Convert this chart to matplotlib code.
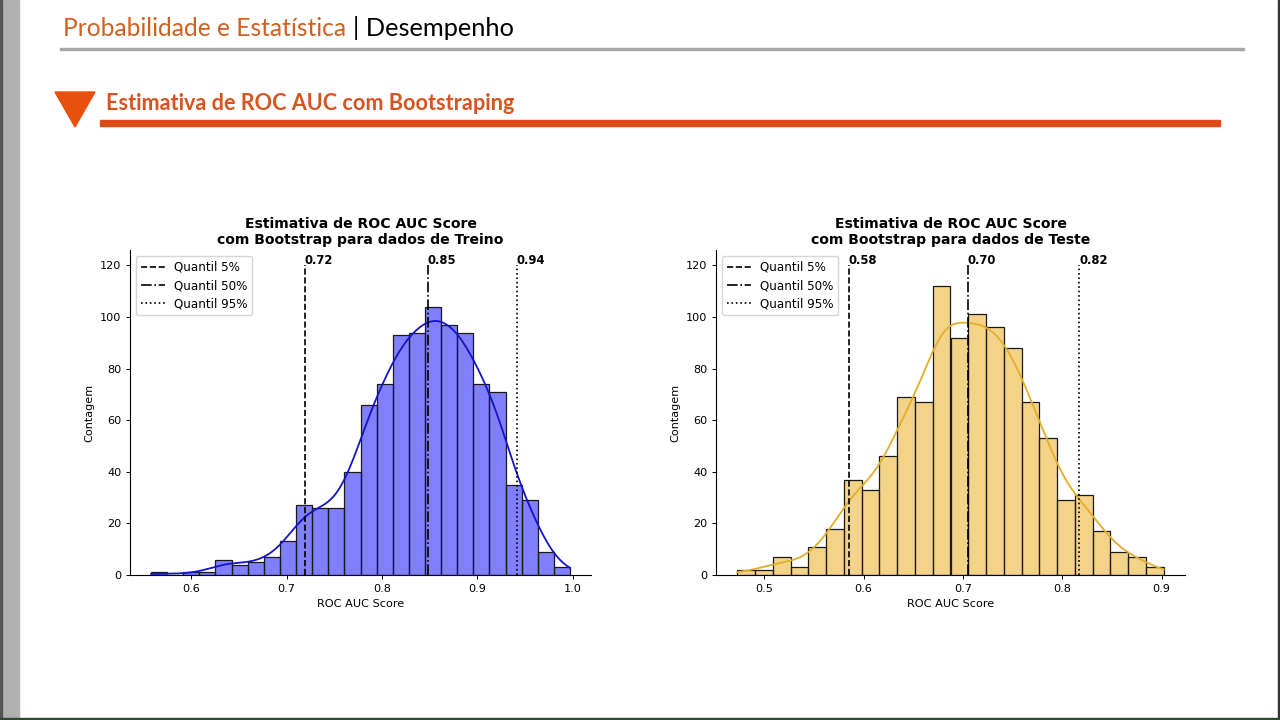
import numpy as np
import matplotlib
matplotlib.use('Agg')
import matplotlib.pyplot as plt
import seaborn as sns
from matplotlib.patches import Polygon, Rectangle

# histogram of bootstrap ROC AUC (train)
train_lo, train_hi = 0.558, 0.997
train_counts = [1, 0, 1, 1, 6, 4, 5, 7, 13, 27, 26, 26, 40, 66, 74, 93, 94, 104, 97, 94, 74, 71, 35, 29, 9, 3]
train_q = [0.719, 0.848, 0.941]

# histogram of bootstrap ROC AUC (test)
test_lo, test_hi = 0.473, 0.902
test_counts = [2, 2, 7, 3, 11, 18, 37, 33, 46, 69, 67, 112, 92, 101, 96, 88, 67, 53, 29, 31, 17, 9, 7, 3]
test_q = [0.585, 0.705, 0.817]

q_labels = ['Quantil 5%', 'Quantil 50%', 'Quantil 95%']
q_styles = ['--', '-.', ':']

W, H = 1280, 720
fig = plt.figure(figsize=(12.8, 7.2), dpi=100)
fig.patch.set_facecolor('white')

def px(x0, y0, w, h):
    return [x0 / W, 1 - (y0 + h) / H, w / W, h / H]

# slide decoration
fig.patches.append(Rectangle((0, 0), 19 / W, 1, transform=fig.transFigure, color='#b0b0b0', zorder=0))
fig.patches.append(Rectangle((0, 0), 2 / W, 1, transform=fig.transFigure, color='#555555', zorder=0))
fig.patches.append(Rectangle((1278 / W, 0), 2 / W, 1, transform=fig.transFigure, color='#333333', zorder=0))
fig.patches.append(Rectangle((0, 0), 1, 2 / H, transform=fig.transFigure, color='#2e4a35', zorder=0))
fig.patches.append(Rectangle((60 / W, 1 - 50 / H), 1184 / W, 2 / H, transform=fig.transFigure, color='#a8a8a8', zorder=0))
fig.patches.append(Rectangle((100 / W, 1 - 126 / H), 1120 / W, 6 / H, transform=fig.transFigure, color='#dc4c14', zorder=0))
fig.patches.append(Polygon([(55 / W, 1 - 92 / H), (95 / W, 1 - 92 / H), (75 / W, 1 - 127 / H)],
                           closed=True, transform=fig.transFigure, color='#e8500f', zorder=0))

fig.text(63 / W, 1 - 28.5 / H, 'Probabilidade e Estatística', fontsize=17.7, family='Lato',
         color='#d2601f', va='center', ha='left')
fig.text(353 / W, 1 - 28.5 / H, '| Desempenho', fontsize=18.3, family='Lato',
         color='black', va='center', ha='left')
fig.text(106 / W, 1 - 104 / H, 'Estimativa de ROC AUC com Bootstraping', fontsize=15.6, family='Lato',
         weight='bold', color='#d9531e', va='center', ha='left')

fs = 8.1

def panel(rect, lo, hi, counts, qs, color, kde_color, title):
    ax = fig.add_axes(rect)
    edges = np.linspace(lo, hi, len(counts) + 1)
    centers = (edges[:-1] + edges[1:]) / 2
    values = np.repeat(centers, counts)
    sns.histplot(x=values, bins=edges, kde=True, color=color, ax=ax, alpha=0.5,
                 edgecolor='#1a1a1a', linewidth=0.9, kde_kws={'cut': 0.5},
                 line_kws={'linewidth': 1.3})
    ax.lines[-1].set_color(kde_color)
    for q, lab, ls in zip(qs, q_labels, q_styles):
        ax.vlines(q, 0, 120, colors='black', linestyles=ls, linewidth=1.2, label=lab)
        ax.text(q, 119.6, f'{q:.2f}', fontsize=8.4, fontweight='bold', ha='left', va='bottom')
    ax.set_ylim(0, 126)
    ax.set_yticks([0, 20, 40, 60, 80, 100, 120])
    ax.set_title(title, fontsize=10.1, fontweight='bold', pad=4)
    ax.set_xlabel('ROC AUC Score', fontsize=fs)
    ax.set_ylabel('Contagem', fontsize=fs)
    ax.tick_params(labelsize=fs, length=2.8, width=0.7)
    ax.spines['top'].set_visible(False)
    ax.spines['right'].set_visible(False)
    for s in ['left', 'bottom']:
        ax.spines[s].set_linewidth(0.8)
    ax.legend(loc='upper left', fontsize=8.6, handlelength=2.0, borderpad=0.4, labelspacing=0.45)
    return ax

panel(px(130, 250, 461, 325), train_lo, train_hi, train_counts, train_q, 'blue', '#1414c8',
      'Estimativa de ROC AUC Score\ncom Bootstrap para dados de Treino')
panel(px(716, 250, 469, 325), test_lo, test_hi, test_counts, test_q, '#e9a812', '#e2ae28',
      'Estimativa de ROC AUC Score\ncom Bootstrap para dados de Teste')

fig.savefig('out.png', dpi=100)
